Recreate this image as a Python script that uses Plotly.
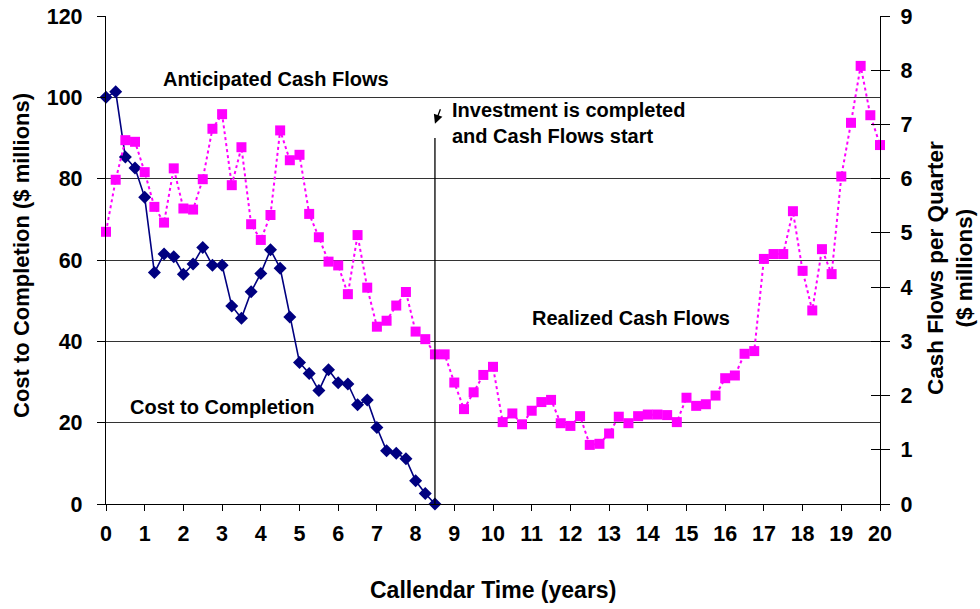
import plotly.graph_objects as go

t_cost = [i * 0.25 for i in range(35)]
cost_to_completion = [100, 101.4, 85.3, 82.6, 75.4, 56.9, 61.5, 60.8, 56.5, 59.0,
                      63.1, 58.7, 58.7, 48.7, 45.7, 52.2, 56.7, 62.5, 58.0, 46.0,
                      34.8, 32.1, 27.9, 33.0, 29.8, 29.5, 24.4, 25.6, 18.8, 13.1,
                      12.5, 11.1, 5.7, 2.6, 0]

t_cash = [i * 0.25 for i in range(81)]
cash_flows = [5.02, 5.98, 6.71, 6.68, 6.12, 5.48, 5.19, 6.19, 5.45, 5.43,
              5.99, 6.92, 7.19, 5.88, 6.58, 5.16, 4.87, 5.33, 6.89, 6.34,
              6.44, 5.35, 4.92, 4.47, 4.40, 3.87, 4.96, 3.99, 3.27, 3.38,
              3.66, 3.91, 3.18, 3.04, 2.76, 2.76, 2.24, 1.75, 2.06, 2.38,
              2.53, 1.51, 1.67, 1.47, 1.72, 1.88, 1.92, 1.49, 1.44, 1.62,
              1.09, 1.11, 1.30, 1.61, 1.49, 1.62, 1.65, 1.65, 1.64, 1.51,
              1.96, 1.81, 1.84, 2.00, 2.32, 2.37, 2.77, 2.82, 4.52, 4.61,
              4.61, 5.40, 4.30, 3.57, 4.70, 4.24, 6.04, 7.03, 8.08, 7.17, 6.62]

x_ticks = list(range(0, 21))
left_ticks = [0, 20, 40, 60, 80, 100, 120]
right_ticks = list(range(0, 10))
completion_time = 8.5

FONT = "Liberation Sans, Arial, sans-serif"

# plot-area bounds in page pixels
X0, X1, Y0, Y1 = 106, 880, 16, 504
W, H = 980, 609
L, R, T, B = X0, W - X1, Y0, H - Y1


def px(x):
    return (x - X0) / (X1 - X0)


def py(y):
    return (Y1 - y) / (Y1 - Y0)


fig = go.Figure()
fig.add_trace(go.Scatter(
    x=t_cost, y=cost_to_completion, mode="lines+markers",
    line=dict(color="#000080", width=1.6),
    marker=dict(symbol="diamond", size=10, color="#000080"),
    yaxis="y", showlegend=False, cliponaxis=False))
fig.add_trace(go.Scatter(
    x=t_cash, y=cash_flows, mode="lines+markers",
    line=dict(color="#FF00FF", width=2, dash="dot"),
    marker=dict(symbol="square", size=10, color="#FF00FF"),
    yaxis="y2", showlegend=False, cliponaxis=False))
fig.add_trace(go.Scatter(x=[None], y=[None], yaxis="y3", showlegend=False, hoverinfo="skip"))

fig.add_shape(type="line", x0=completion_time, x1=completion_time, y0=0, y1=90,
              xref="x", yref="y", line=dict(color="black", width=1.3))

ann_font = dict(family=FONT, size=20, color="black")
fig.add_annotation(x=4.39, y=104.5, text="<b>Anticipated Cash Flows</b>",
                   showarrow=False, font=ann_font, xref="x", yref="y")
fig.add_annotation(x=3.0, y=23.9, text="<b>Cost to Completion</b>",
                   showarrow=False, font=ann_font, xref="x", yref="y")
fig.add_annotation(x=13.57, y=45.8, text="<b>Realized Cash Flows</b>",
                   showarrow=False, font=ann_font, xref="x", yref="y")
fig.add_annotation(x=8.88, y=93.7, text="<b>Investment is completed<br>and Cash Flows start</b>",
                   showarrow=False, font=ann_font, xref="x", yref="y",
                   xanchor="left", align="left")
fig.add_annotation(x=completion_time, y=93.5, text="", showarrow=True,
                   arrowhead=2, arrowsize=1.4, arrowwidth=1.3, arrowcolor="black",
                   ax=6, ay=-16, xref="x", yref="y")

# axis titles
fig.add_annotation(x=px(21), y=py(256), xref="paper", yref="paper",
                   xanchor="center", yanchor="middle",
                   text="<b>Cost to Completion ($ millions)</b>",
                   showarrow=False, textangle=-90, font=dict(family=FONT, size=22, color="black"))
fig.add_annotation(x=px(950), y=py(268), xref="paper", yref="paper",
                   xanchor="center", yanchor="middle",
                   text="<b>Cash Flows per Quarter<br>($ millions)</b>",
                   showarrow=False, textangle=-90, font=dict(family=FONT, size=22.5, color="black"))
fig.add_annotation(x=px(493), y=py(590), xref="paper", yref="paper",
                   xanchor="center", yanchor="middle",
                   text="<b>Callendar Time (years)</b>",
                   showarrow=False, font=dict(family=FONT, size=23, color="black"))

tickfont = dict(family=FONT, size=21.5, weight="bold")
fig.update_layout(
    width=W, height=H,
    margin=dict(l=L, r=R, t=T, b=B),
    paper_bgcolor="white", plot_bgcolor="white",
    font=dict(family=FONT, color="black"),
    xaxis=dict(range=[0, 20], tickvals=x_ticks, showgrid=False, zeroline=False,
               showline=True, linecolor="black", linewidth=1.3, automargin=False,
               ticks="outside", ticklen=6, tickcolor="black", ticklabelstandoff=4,
               tickfont=tickfont),
    yaxis=dict(range=[0, 120], tickvals=left_ticks, showgrid=True, gridcolor="#333333", gridwidth=1,
               zeroline=False, showline=True, linecolor="black", linewidth=1.3, automargin=False,
               ticks="outside", ticklen=8, tickcolor="black", ticklabelstandoff=10,
               tickfont=tickfont),
    yaxis2=dict(range=[0, 9], tickvals=right_ticks, overlaying="y", side="right",
                showgrid=False, zeroline=False, showline=True, linecolor="black", linewidth=1.3,
                automargin=False, ticks="outside", ticklen=9, tickcolor="black", ticklabelstandoff=6,
                tickfont=tickfont),
    yaxis3=dict(range=[0, 9], tickvals=right_ticks, overlaying="y", side="right",
                showgrid=False, zeroline=False, showline=False, automargin=False,
                ticks="inside", ticklen=9, tickcolor="black", showticklabels=False),
)

fig.write_html("out.html", config={"displayModeBar": False},
               post_script="document.body.style.margin='0';")
